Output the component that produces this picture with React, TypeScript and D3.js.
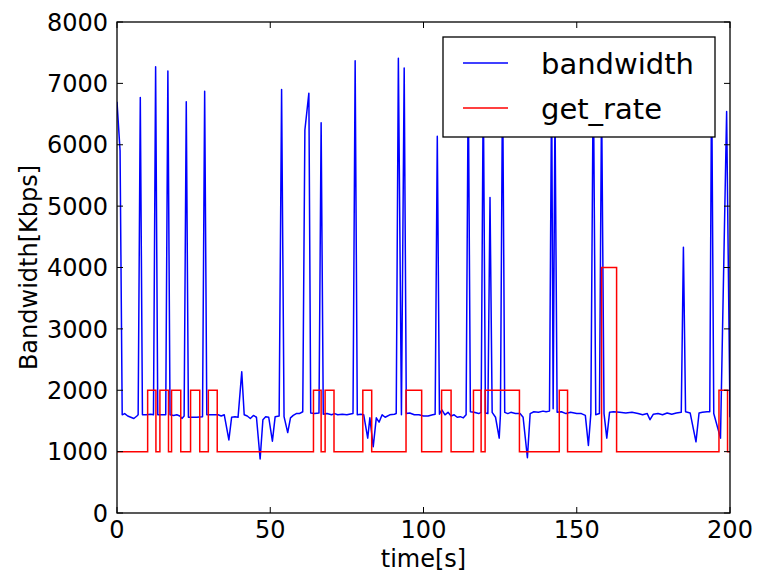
import React from "react";
import * as d3 from "d3";

const W = 758;
const H = 574;
const M = { left: 117, right: 730, top: 22, bottom: 513 };

const xTicks = [0, 50, 100, 150, 200];
const yTicks = [0, 1000, 2000, 3000, 4000, 5000, 6000, 7000, 8000];

const seriesNames = ["bandwidth", "get_rate"];

// bandwidth samples (time [s], Kbps)
const bwTime = [
  0, 1.0, 1.7, 2.5, 3.5, 4.5, 5.5, 6.5, 6.9, 7.6, 8.3, 9.5, 11, 11.9, 12.6, 13.3, 14.5, 15.9, 16.6, 17.3,
  18.5, 19.5, 20.5, 21.2, 21.9, 22.6, 23.3, 24.5, 26, 27.9, 28.6, 29.3, 31, 33, 34, 35, 36.5, 37.4, 38.5, 39.5,
  40.7, 41.5, 42.5, 43.5, 44.5, 45.5, 46.7, 47.6, 48.5, 49.5, 50.7, 51.6, 52.9, 53.7, 54.5, 55.7, 56.6, 57.5, 58.5, 59.5,
  60.6, 61.3, 62.6, 63.2, 64.5, 65.9, 66.6, 67.3, 68.5, 70, 71, 72, 73.5, 75, 77, 77.7, 78.4, 79.5, 80.5, 81.8,
  82.5, 83.6, 84.6, 85.5, 86.5, 87.5, 89, 90.5, 91.1, 91.8, 92.8, 93.7, 94.4, 95.5, 97, 98.5, 100, 101.5, 103, 103.8,
  104.5, 105.2, 106, 107, 108, 109, 110, 111, 112, 113, 113.9, 114.6, 115.3, 116.5, 118, 118.8, 119.5, 120.2, 121, 121.7,
  122.4, 123.5, 124.7, 125.1, 125.8, 126.5, 127.5, 128.5, 130, 131.5, 132.5, 133.9, 134.8, 136, 137.5, 139, 140, 141.1, 141.8, 142.3,
  142.9, 143.6, 145, 146.5, 148, 150, 151.5, 152.8, 153.8, 154.6, 155.4, 156.2, 157.4, 158.1, 158.9, 159.8, 160.7, 162, 164, 166,
  168, 170, 171.5, 173, 173.9, 175, 176.5, 178, 179.5, 181, 182.5, 184.1, 184.8, 185.5, 187, 188.9, 189.9, 191, 192.5, 193.4,
  194, 194.7, 196.9, 198.9, 200,
];
const bwValue = [
  6700, 5900, 1600, 1620, 1580, 1560, 1540, 1580, 1600, 6770, 1600, 1600, 1610, 1600, 7270, 1600, 1600, 1600, 7200, 1600,
  1590, 1600, 1580, 1540, 1580, 6700, 1560, 1560, 1560, 1570, 6870, 1600, 1600, 1600, 1580, 1600, 1190, 1560, 1570, 1560,
  2300, 1600, 1580, 1540, 1590, 1560, 880, 1520, 1570, 1560, 1170, 1570, 1580, 6900, 1570, 1310, 1550, 1590, 1620, 1620,
  1650, 6240, 6840, 1630, 1620, 1630, 6360, 1610, 1620, 1600, 1620, 1600, 1610, 1600, 1620, 7370, 1600, 1610, 1600, 1220,
  1550, 1080, 1550, 1480, 1600, 1560, 1600, 1610, 1620, 7410, 1600, 7250, 1620, 1630, 1600, 1600, 1580, 1580, 1600, 1610,
  6140, 1610, 1680, 1600, 1640, 1580, 1600, 1560, 1570, 1550, 1600, 7100, 1650, 1640, 1620, 1640, 7000, 1630, 1620, 5140,
  1640, 1560, 1220, 1600, 7200, 1640, 1620, 1640, 1620, 1620, 1560, 900, 1620, 1650, 1640, 1660, 1650, 1660, 7000, 1700,
  6600, 1640, 1650, 1620, 1640, 1620, 1620, 1590, 1100, 1620, 7300, 1600, 1620, 6800, 1620, 1220, 1640, 1650, 1640, 1630,
  1640, 1620, 1600, 1620, 1520, 1610, 1620, 1600, 1630, 1610, 1630, 1640, 4330, 1650, 1630, 1160, 1630, 1640, 1650, 1650,
  7200, 1620, 1220, 6540, 1560,
];

// get_rate steps (time where level starts, level in Kbps)
const rateTime = [
  0, 10, 12.7, 14, 16.8, 17.8, 20.8, 24, 27, 29.8, 32.7, 64.1, 66.6, 67.9, 70.8, 80.2, 83.1, 94.3, 99.4, 105.9,
  109, 116.3, 118.8, 120.1, 131.3, 144.3, 147, 158.1, 163, 196.4, 199.2, 200,
];
const rateValue = [
  1000, 2000, 1000, 2000, 1000, 2000, 1000, 2000, 1000, 2000, 1000, 2000, 1000, 2000, 1000, 2000, 1000, 2000, 1000, 2000,
  1000, 2000, 1000, 2000, 1000, 2000, 1000, 4000, 1000, 2000, 1000, 1000,
];

const FONT = "'DejaVu Sans', sans-serif";

export default function App() {
  const x = d3.scaleLinear().domain([0, 200]).range([M.left, M.right]);
  const y = d3.scaleLinear().domain([0, 8000]).range([M.bottom, M.top]);

  const bw = bwTime.map((t, i) => [t, bwValue[i]] as [number, number]);
  const rate = rateTime.map((t, i) => [t, rateValue[i]] as [number, number]);

  const lineLin = d3
    .line<[number, number]>()
    .x((d) => x(d[0]))
    .y((d) => y(d[1]));
  const lineStep = d3
    .line<[number, number]>()
    .x((d) => x(d[0]))
    .y((d) => y(d[1]))
    .curve(d3.curveStepAfter);

  const tickLen = 6;
  const leg = { x0: 443, x1: 715, y0: 37, y1: 137 };
  const legRows = [63, 108];
  const legColors = ["#0000ff", "#ff0000"];

  return (
    <svg
      width={W}
      height={H}
      style={{ position: "absolute", left: 0, top: 0, background: "#fff" }}
      fontFamily={FONT}
    >
      <rect x={0} y={0} width={W} height={H} fill="#fff" />
      <defs>
        <clipPath id="plot">
          <rect x={M.left} y={M.top} width={M.right - M.left} height={M.bottom - M.top} />
        </clipPath>
      </defs>
      <g clipPath="url(#plot)">
        <path d={lineLin(bw) || ""} fill="none" stroke="#0000ff" strokeWidth={1.5} strokeLinejoin="round" />
        <path d={lineStep(rate) || ""} fill="none" stroke="#ff0000" strokeWidth={1.5} />
      </g>

      {/* ticks on all sides, inward */}
      {xTicks.map((t) => (
        <g key={"xt" + t}>
          <line x1={x(t)} x2={x(t)} y1={M.bottom} y2={M.bottom - tickLen} stroke="#000" strokeWidth={1} />
          <line x1={x(t)} x2={x(t)} y1={M.top} y2={M.top + tickLen} stroke="#000" strokeWidth={1} />
          <text x={x(t)} y={M.bottom + 25} fontSize={24} textAnchor="middle" fill="#000">
            {t}
          </text>
        </g>
      ))}
      {yTicks.map((t) => (
        <g key={"yt" + t}>
          <line x1={M.left} x2={M.left + tickLen} y1={y(t)} y2={y(t)} stroke="#000" strokeWidth={1} />
          <line x1={M.right} x2={M.right - tickLen} y1={y(t)} y2={y(t)} stroke="#000" strokeWidth={1} />
          <text x={M.left - 9} y={y(t) + 8.7} fontSize={24} textAnchor="end" fill="#000">
            {t}
          </text>
        </g>
      ))}

      <rect
        x={M.left}
        y={M.top}
        width={M.right - M.left}
        height={M.bottom - M.top}
        fill="none"
        stroke="#000"
        strokeWidth={1.3}
      />

      <text x={(M.left + M.right) / 2} y={567} fontSize={24} textAnchor="middle" fill="#000">
        time[s]
      </text>
      <text
        transform={`translate(37,${(M.top + M.bottom) / 2}) rotate(-90)`}
        fontSize={24}
        textAnchor="middle"
        fill="#000"
      >
        Bandwidth[Kbps]
      </text>

      {/* legend */}
      <rect
        x={leg.x0}
        y={leg.y0}
        width={leg.x1 - leg.x0}
        height={leg.y1 - leg.y0}
        fill="#fff"
        stroke="#000"
        strokeWidth={1.3}
      />
      {seriesNames.map((name, i) => (
        <g key={name}>
          <line x1={463} x2={508} y1={legRows[i]} y2={legRows[i]} stroke={legColors[i]} strokeWidth={1.5} />
          <text x={541} y={legRows[i] + 10.5} fontSize={29} fill="#000">
            {name}
          </text>
        </g>
      ))}
    </svg>
  );
}
